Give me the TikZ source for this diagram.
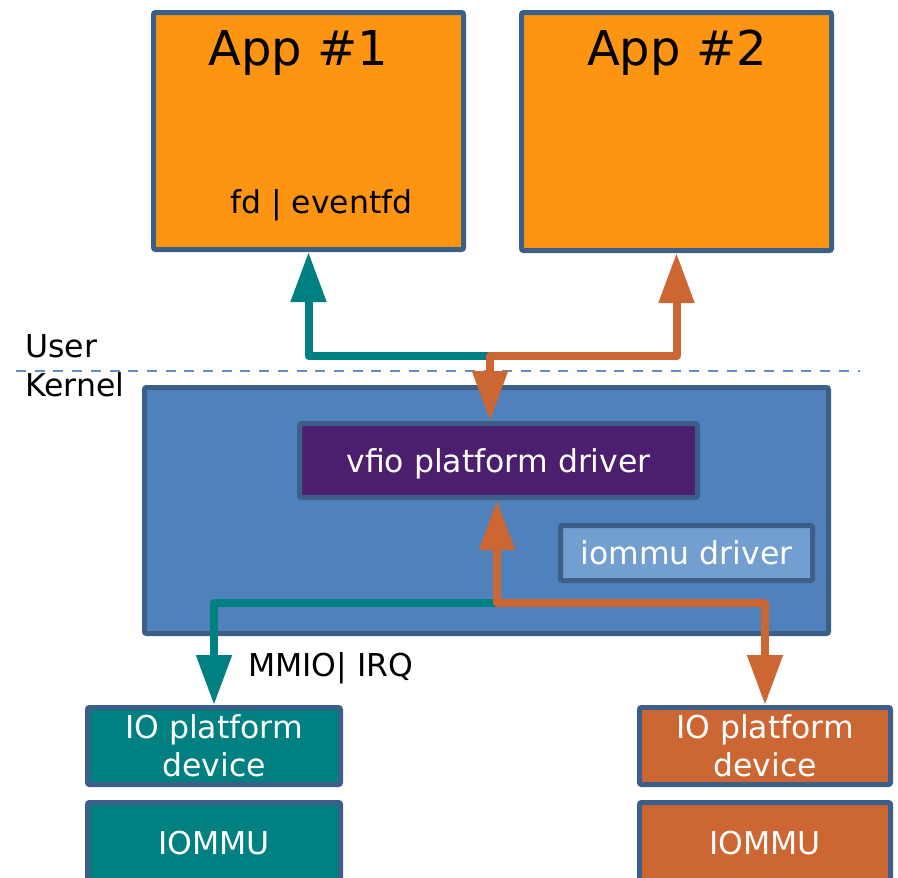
\documentclass[tikz,border=0pt]{standalone}
\usepackage{fontspec}
\setmainfont{DejaVu Sans}
\usetikzlibrary{arrows.meta}

\definecolor{bordc}{RGB}{60,95,138}
\definecolor{apporange}{RGB}{254,149,18}
\definecolor{kblue}{RGB}{79,129,189}
\definecolor{vpurple}{RGB}{75,31,110}
\definecolor{idblue}{RGB}{114,159,207}
\definecolor{tealc}{RGB}{0,128,128}
\definecolor{brick}{RGB}{204,102,51}
\definecolor{dashc}{RGB}{100,140,200}

\tikzset{
  box/.style={draw=bordc, line width=5pt, rounded corners=2pt, inner sep=0pt,
    font=\fontsize{31.5}{37.5}\selectfont, text=white, align=center},
  onebox/.style={box, text height=23pt, text depth=0pt},
  bigtext/.style={font=\fontsize{48}{56}\selectfont, anchor=base, inner sep=0pt},
  midtext/.style={font=\fontsize{31.5}{37.5}\selectfont, inner sep=0pt},
  flow/.style={line width=8pt, line join=round},
  tip/.style={-{Triangle[length=50pt,width=34pt]}},
  tips/.style={{Triangle[length=50pt,width=34pt]}-{Triangle[length=50pt,width=34pt]}},
}

\begin{document}
\begin{tikzpicture}[x=1pt, y=-1pt]
  \clip (0,0) rectangle (898,878);

  % user / kernel boundary
  \draw[dashc, line width=2pt, dash pattern=on 10pt off 8.7pt] (16,371) -- (860,371);
  \node[midtext, anchor=base west] (user) at (25,357) {User};
  \node[midtext, anchor=base west] (kernelt) at (25,396) {Kernel};

  % applications
  \node[box, fill=apporange, minimum width=310pt, minimum height=237pt] (app1) at (308.5,131) {};
  \node[box, fill=apporange, minimum width=310pt, minimum height=238pt] (app2) at (676.5,131.5) {};
  \node[bigtext] (app1t) at (298.5,65) {App \#1};
  \node[bigtext] (app2t) at (677,65) {App \#2};
  \node[midtext, anchor=base] (fdt) at (321.5,213) {fd | eventfd};

  % kernel side
  \node[box, fill=kblue, minimum width=684pt, minimum height=246pt] (kernel) at (486.5,510.5) {};
  \node[onebox, fill=vpurple, minimum width=398pt, minimum height=74pt] (vfio) at (498.5,460.5) {vfio platform driver};
  \node[onebox, fill=idblue, minimum width=252pt, minimum height=55pt] (iommud) at (686.5,553) {iommu driver};

  % devices
  \node[box, fill=tealc, minimum width=253pt, minimum height=77pt] (io1) at (214,746) {IO platform\\device};
  \node[onebox, fill=tealc, minimum width=253pt, minimum height=81pt] (mmu1) at (214,843) {IOMMU};
  \node[box, fill=brick, minimum width=251pt, minimum height=77pt] (io2) at (765,746) {IO platform\\device};
  \node[onebox, fill=brick, minimum width=251pt, minimum height=81pt] (mmu2) at (765,843) {IOMMU};

  \node[midtext, anchor=base west] (mmio) at (248,676) {MMIO| IRQ};

  % junctions
  \coordinate (j1) at (490,356);
  \coordinate (j2) at (497,603);

  % upper flows
  \draw[flow, tealc, tip] (j1) -| (app1.south);
  \draw[flow, brick, tips] (app2.south) |- (j1) -- (j1 |- vfio.north);

  % lower flows
  \draw[flow, tealc, tip] (j2) -| (io1.north);
  \draw[flow, brick, tips] (j2 |- vfio.south) -- (j2) -| (io2.north);
\end{tikzpicture}
\end{document}
